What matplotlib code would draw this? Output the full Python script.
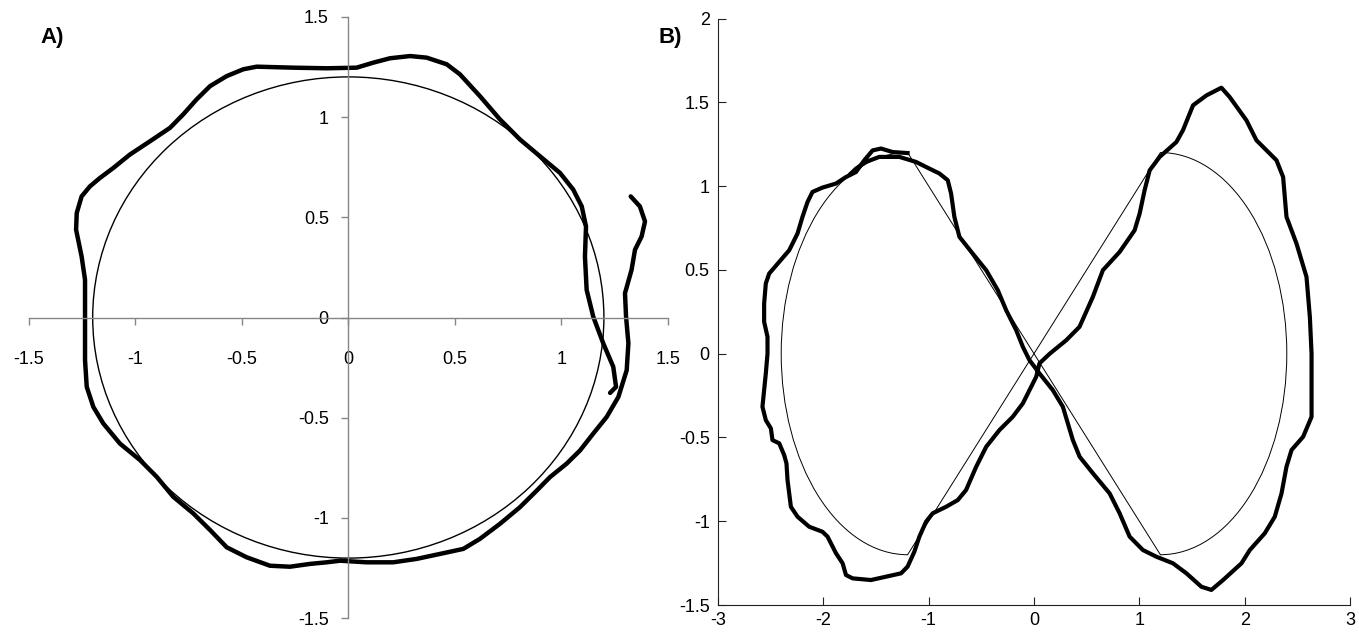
import matplotlib.pyplot as plt
from matplotlib.patches import Circle, Arc

plt.rcParams['axes.unicode_minus'] = False

# panel A: reference circle and measured path
a_radius = 1.2
a_ticks = [-1.5, -1, -0.5, 0, 0.5, 1, 1.5]
a_x = [1.326, 1.369, 1.393, 1.377, 1.346, 1.330, 1.299, 1.304, 1.315, 1.307, 1.268, 1.213, 1.150,
       1.088, 1.025, 0.947, 0.885, 0.806, 0.712, 0.618, 0.540, 0.431, 0.321, 0.211, 0.086, -0.039,
       -0.101, -0.180, -0.274, -0.368, -0.477, -0.571, -0.649, -0.728, -0.822, -0.900, -0.978, -1.072,
       -1.150, -1.197, -1.228, -1.236, -1.236, -1.236, -1.236, -1.252, -1.278, -1.275, -1.252, -1.213,
       -1.166, -1.103, -1.025, -0.931, -0.837, -0.775, -0.712, -0.649, -0.571, -0.493, -0.430, -0.258,
       -0.101, 0.039, 0.117, 0.196, 0.290, 0.368, 0.462, 0.524, 0.618, 0.712, 0.806, 0.900, 0.994,
       1.056, 1.096, 1.116, 1.111, 1.119, 1.150, 1.197, 1.244, 1.257, 1.229]
a_y = [0.604, 0.554, 0.479, 0.404, 0.338, 0.238, 0.121, 0.004, -0.129, -0.263, -0.396, -0.496, -0.579,
       -0.663, -0.729, -0.796, -0.863, -0.946, -1.029, -1.104, -1.154, -1.179, -1.204, -1.221, -1.221, -1.213,
       -1.221, -1.229, -1.243, -1.238, -1.196, -1.146, -1.060, -0.977, -0.894, -0.794, -0.711, -0.629,
       -0.529, -0.446, -0.346, -0.213, -0.063, 0.004, 0.188, 0.304, 0.438, 0.521, 0.604, 0.654,
       0.696, 0.746, 0.813, 0.879, 0.946, 1.013, 1.088, 1.154, 1.204, 1.238, 1.251, 1.246,
       1.243, 1.246, 1.271, 1.293, 1.304, 1.296, 1.263, 1.213, 1.104, 0.988, 0.888, 0.804, 0.721,
       0.638, 0.554, 0.454, 0.304, 0.138, 0.004, -0.129, -0.246, -0.346, -0.376]

# panel B: figure-eight reference (two half ellipses + two diagonals) and measured path
b_centers = [-1.2, 1.2]
b_semi = 1.2
b_diag_x = [-1.2, 1.2]
b_diag_y = [1.2, -1.2]
b_xticks = [-3, -2, -1, 0, 1, 2, 3]
b_yticks = [-1.5, -1, -0.5, 0, 0.5, 1, 1.5, 2]
b_x = [-1.20, -1.342, -1.452, -1.532, -1.611, -1.690, -1.785, -1.880, -2.008, -2.103, -2.150, -2.198,
       -2.245, -2.324, -2.419, -2.514, -2.546, -2.562, -2.562, -2.530, -2.530, -2.546, -2.578, -2.546,
       -2.498, -2.483, -2.419, -2.372, -2.350, -2.340, -2.308, -2.245, -2.134, -2.008, -1.960, -1.880,
       -1.817, -1.785, -1.722, -1.548, -1.405, -1.262, -1.200, -1.136, -1.088, -1.025, -0.962, -0.835,
       -0.724, -0.645, -0.549, -0.454, -0.328, -0.202, -0.106, -0.043, 0.021, 0.052, 0.15, 0.306,
       0.432, 0.559, 0.654, 0.813, 0.955, 1.003, 1.050, 1.098, 1.193, 1.352, 1.414, 1.510, 1.637,
       1.779, 1.858, 2.017, 2.112, 2.302, 2.365, 2.397, 2.492, 2.587, 2.619, 2.635, 2.635, 2.555,
       2.445, 2.397, 2.350, 2.286, 2.191, 2.049, 1.970, 1.795, 1.684, 1.589, 1.447, 1.319, 1.162,
       1.034, 0.908, 0.813, 0.718, 0.559, 0.433, 0.369, 0.274, 0.179, 0.052, -0.043, -0.106, -0.169,
       -0.264, -0.344, -0.454, -0.582, -0.708, -0.756, -0.787, -0.819, -0.898, -1.025, -1.120, -1.278,
       -1.469, -1.595, -1.690, -1.738]
b_y = [1.197, 1.203, 1.224, 1.213, 1.154, 1.084, 1.054, 1.015, 0.991, 0.965, 0.905, 0.816,
       0.717, 0.617, 0.547, 0.478, 0.419, 0.299, 0.190, 0.100, 0.0, -0.118, -0.317, -0.397,
       -0.446, -0.516, -0.535, -0.605, -0.655, -0.754, -0.914, -0.973, -1.033, -1.063, -1.092, -1.191,
       -1.251, -1.321, -1.341, -1.351, -1.331, -1.311, -1.271, -1.182, -1.092, -1.003, -0.953, -0.914,
       -0.874, -0.814, -0.675, -0.556, -0.456, -0.377, -0.297, -0.218, -0.138, -0.058, 0.0, 0.080,
       0.160, 0.339, 0.498, 0.607, 0.736, 0.836, 0.975, 1.094, 1.174, 1.263, 1.333, 1.482, 1.541,
       1.587, 1.531, 1.392, 1.273, 1.154, 1.054, 0.816, 0.657, 0.458, 0.219, 0.0, -0.377, -0.496,
       -0.575, -0.675, -0.834, -0.973, -1.072, -1.172, -1.251, -1.351, -1.410, -1.391, -1.311, -1.251, -1.212,
       -1.172, -1.092, -0.953, -0.834, -0.714, -0.615, -0.516, -0.317, -0.218, -0.118, -0.039, 0.041, 0.140,
       0.259, 0.379, 0.498, 0.597, 0.697, 0.816, 0.955, 1.035, 1.075, 1.114, 1.144, 1.174,
       1.174, 1.144, 1.104, 1.075]

font = ['Liberation Sans', 'DejaVu Sans']

fig = plt.figure(figsize=(13.59, 6.37), dpi=100)

# ---- panel A, excel style axes through the origin
ax = fig.add_axes([28.8 / 1359, 18.75 / 637, 639 / 1359, 601.5 / 637])
ax.add_patch(Circle((0, 0), a_radius, fill=False, color='black', lw=1.0))
ax.plot(a_x, a_y, color='black', lw=3.2, solid_capstyle='round', solid_joinstyle='round')
ax.set_xlim(-1.5, 1.5)
ax.set_ylim(-1.5, 1.5)
for side in ['top', 'right']:
    ax.spines[side].set_visible(False)
for side in ['left', 'bottom']:
    ax.spines[side].set_position(('data', 0))
    ax.spines[side].set_color('#868686')
    ax.spines[side].set_linewidth(1)
ax.set_xticks(a_ticks)
ax.set_yticks(a_ticks)
ax.set_xticklabels([f'{v:g}' for v in a_ticks], family=font, fontsize=13)
ax.set_yticklabels([f'{v:g}' for v in a_ticks], family=font, fontsize=13)
ax.tick_params(axis='both', direction='out', length=5, width=1, color='#868686')
ax.tick_params(axis='x', pad=19)
ax.tick_params(axis='y', pad=9)
ax.patch.set_alpha(0)

# ---- panel B, matlab style
bx = fig.add_axes([718 / 1359, 32 / 637, 632 / 1359, 586.5 / 637])
for c, t1, t2 in zip(b_centers, [90, -90], [270, 90]):
    bx.add_patch(Arc((c, 0), 2 * b_semi, 2 * b_semi, theta1=t1, theta2=t2, color='black', lw=0.7))
bx.plot(b_diag_x, b_diag_y, color='black', lw=0.7)
bx.plot(b_diag_x, b_diag_y[::-1], color='black', lw=0.7)
bx.plot(b_x, b_y, color='black', lw=3, solid_joinstyle='round')
bx.set_xlim(-3, 3)
bx.set_ylim(-1.5, 2)
for side in ['top', 'right']:
    bx.spines[side].set_visible(False)
for side in ['left', 'bottom']:
    bx.spines[side].set_color('#222222')
bx.set_xticks(b_xticks)
bx.set_yticks(b_yticks)
bx.set_xticklabels([f'{v:g}' for v in b_xticks], family=font, fontsize=13)
bx.set_yticklabels([f'{v:g}' for v in b_yticks], family=font, fontsize=13)
bx.tick_params(axis='both', direction='in', length=6, width=0.8, color='#222222')
bx.tick_params(axis='x', pad=5)
bx.tick_params(axis='y', pad=6)

fig.text(52 / 1359, 1 - 37 / 637, 'A)', fontsize=16, fontweight='bold', family=font,
         ha='center', va='center')
fig.text(670 / 1359, 1 - 37 / 637, 'B)', fontsize=16, fontweight='bold', family=font,
         ha='center', va='center')

fig.savefig('out.png', dpi=100)
